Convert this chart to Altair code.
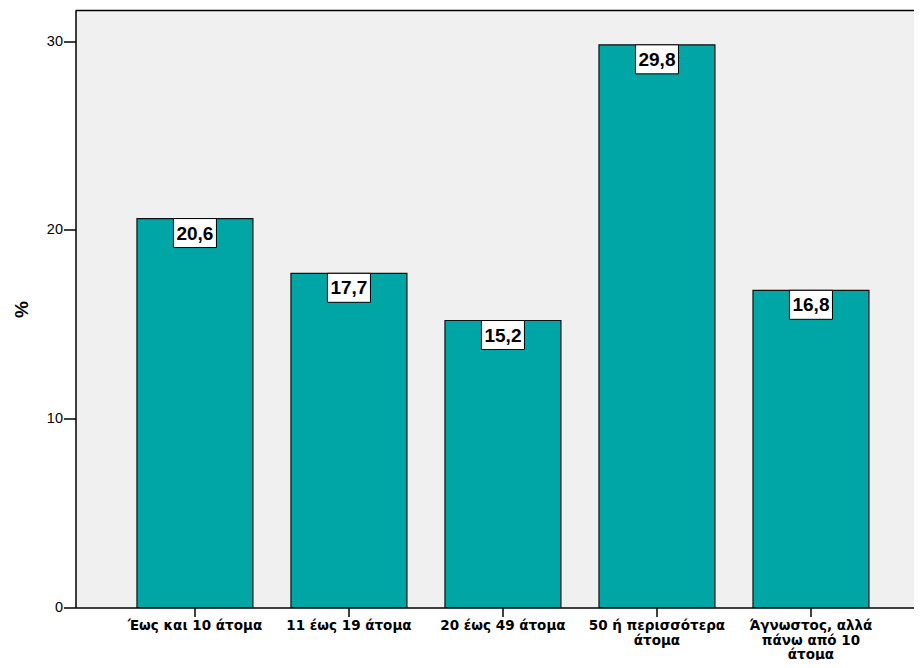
import altair as alt
import pandas as pd

categories = ["Έως και 10 άτομα", "11 έως 19 άτομα", "20 έως 49 άτομα",
              "50 ή περισσότερα|άτομα", "Άγνωστος, αλλά|πάνω από 10|άτομα"]
values = [20.6, 17.7, 15.2, 29.8, 16.8]
value_labels = ["20,6", "17,7", "15,2", "29,8", "16,8"]
y_ticks = [0, 10, 20, 30]
title_text = "Αριθμός ατόμων στην τοπική μονάδα."

df = pd.DataFrame({"cat": categories, "val": values, "lab": value_labels})

W, H = 838.5, 597
FONT = "Liberation Sans"
XFONT = "DejaVu Sans"

xenc = alt.X("cat:N", sort=categories, title=None,
             scale=alt.Scale(paddingInner=0.247, paddingOuter=0.3458, align=0.577),
             axis=alt.Axis(labelAngle=0, labelFont=XFONT, labelFontSize=13.5, labelFontWeight="bold",
                           labelColor="black", labelExpr="split(datum.label, '|')",
                           labelLineHeight=14.5, labelPadding=2, labelBaseline="top",
                           tickSize=9, tickWidth=1.5, tickColor="black",
                           domainColor="black", domainWidth=1.5))
yenc = alt.Y("val:Q", title="%", scale=alt.Scale(domain=[0, 31.62], nice=False, zero=True),
             axis=alt.Axis(values=y_ticks, grid=False, labelFont=FONT, labelFontSize=14.5,
                           labelColor="black", tickSize=12, tickWidth=1.5, tickColor="black",
                           labelPadding=1, domainColor="black", domainWidth=1.5,
                           titleFont=FONT, titleFontSize=19, titleFontWeight="bold",
                           titleColor="black", titlePadding=15))

base = alt.Chart(df)

bars = base.mark_bar(color="#00A5A5", stroke="#111111", strokeWidth=1.2).encode(x=xenc, y=yenc)

box_path = "M-1,-0.674L1,-0.674L1,0.674L-1,0.674Z"
boxes = base.mark_point(shape=box_path, filled=True, fill="white", opacity=1,
                        stroke="black", strokeWidth=1, size=43 * 43, yOffset=14.5).encode(
    x=alt.X("cat:N", sort=categories), y="val:Q")

texts = base.mark_text(font=FONT, fontSize=19, fontWeight="bold", color="black",
                       baseline="middle", dy=15).encode(
    x=alt.X("cat:N", sort=categories), y="val:Q", text="lab:N")

top_line = alt.Chart(pd.DataFrame({"t": [title_text]})).mark_rule(
    color="black", strokeWidth=1.5).encode(x=alt.value(0), x2=alt.value(W), y=alt.value(0))

title_mark = alt.Chart(pd.DataFrame({"t": [title_text]})).mark_text(
    font=FONT, fontSize=17, fontWeight="bold", color="black", baseline="alphabetic",
    align="center").encode(x=alt.value(384.5), y=alt.value(-7), text="t:N")

chart = alt.layer(bars, boxes, texts, top_line, title_mark).properties(
    width=W, height=H,
    autosize=alt.AutoSizeParams(type="none"),
    padding={"left": 67.5, "top": 2.5, "right": 0, "bottom": 52},
    background="white",
).configure_view(fill="#F0F0F0", stroke=None)

chart.save("out.html", embed_options={"renderer": "svg", "actions": False})
